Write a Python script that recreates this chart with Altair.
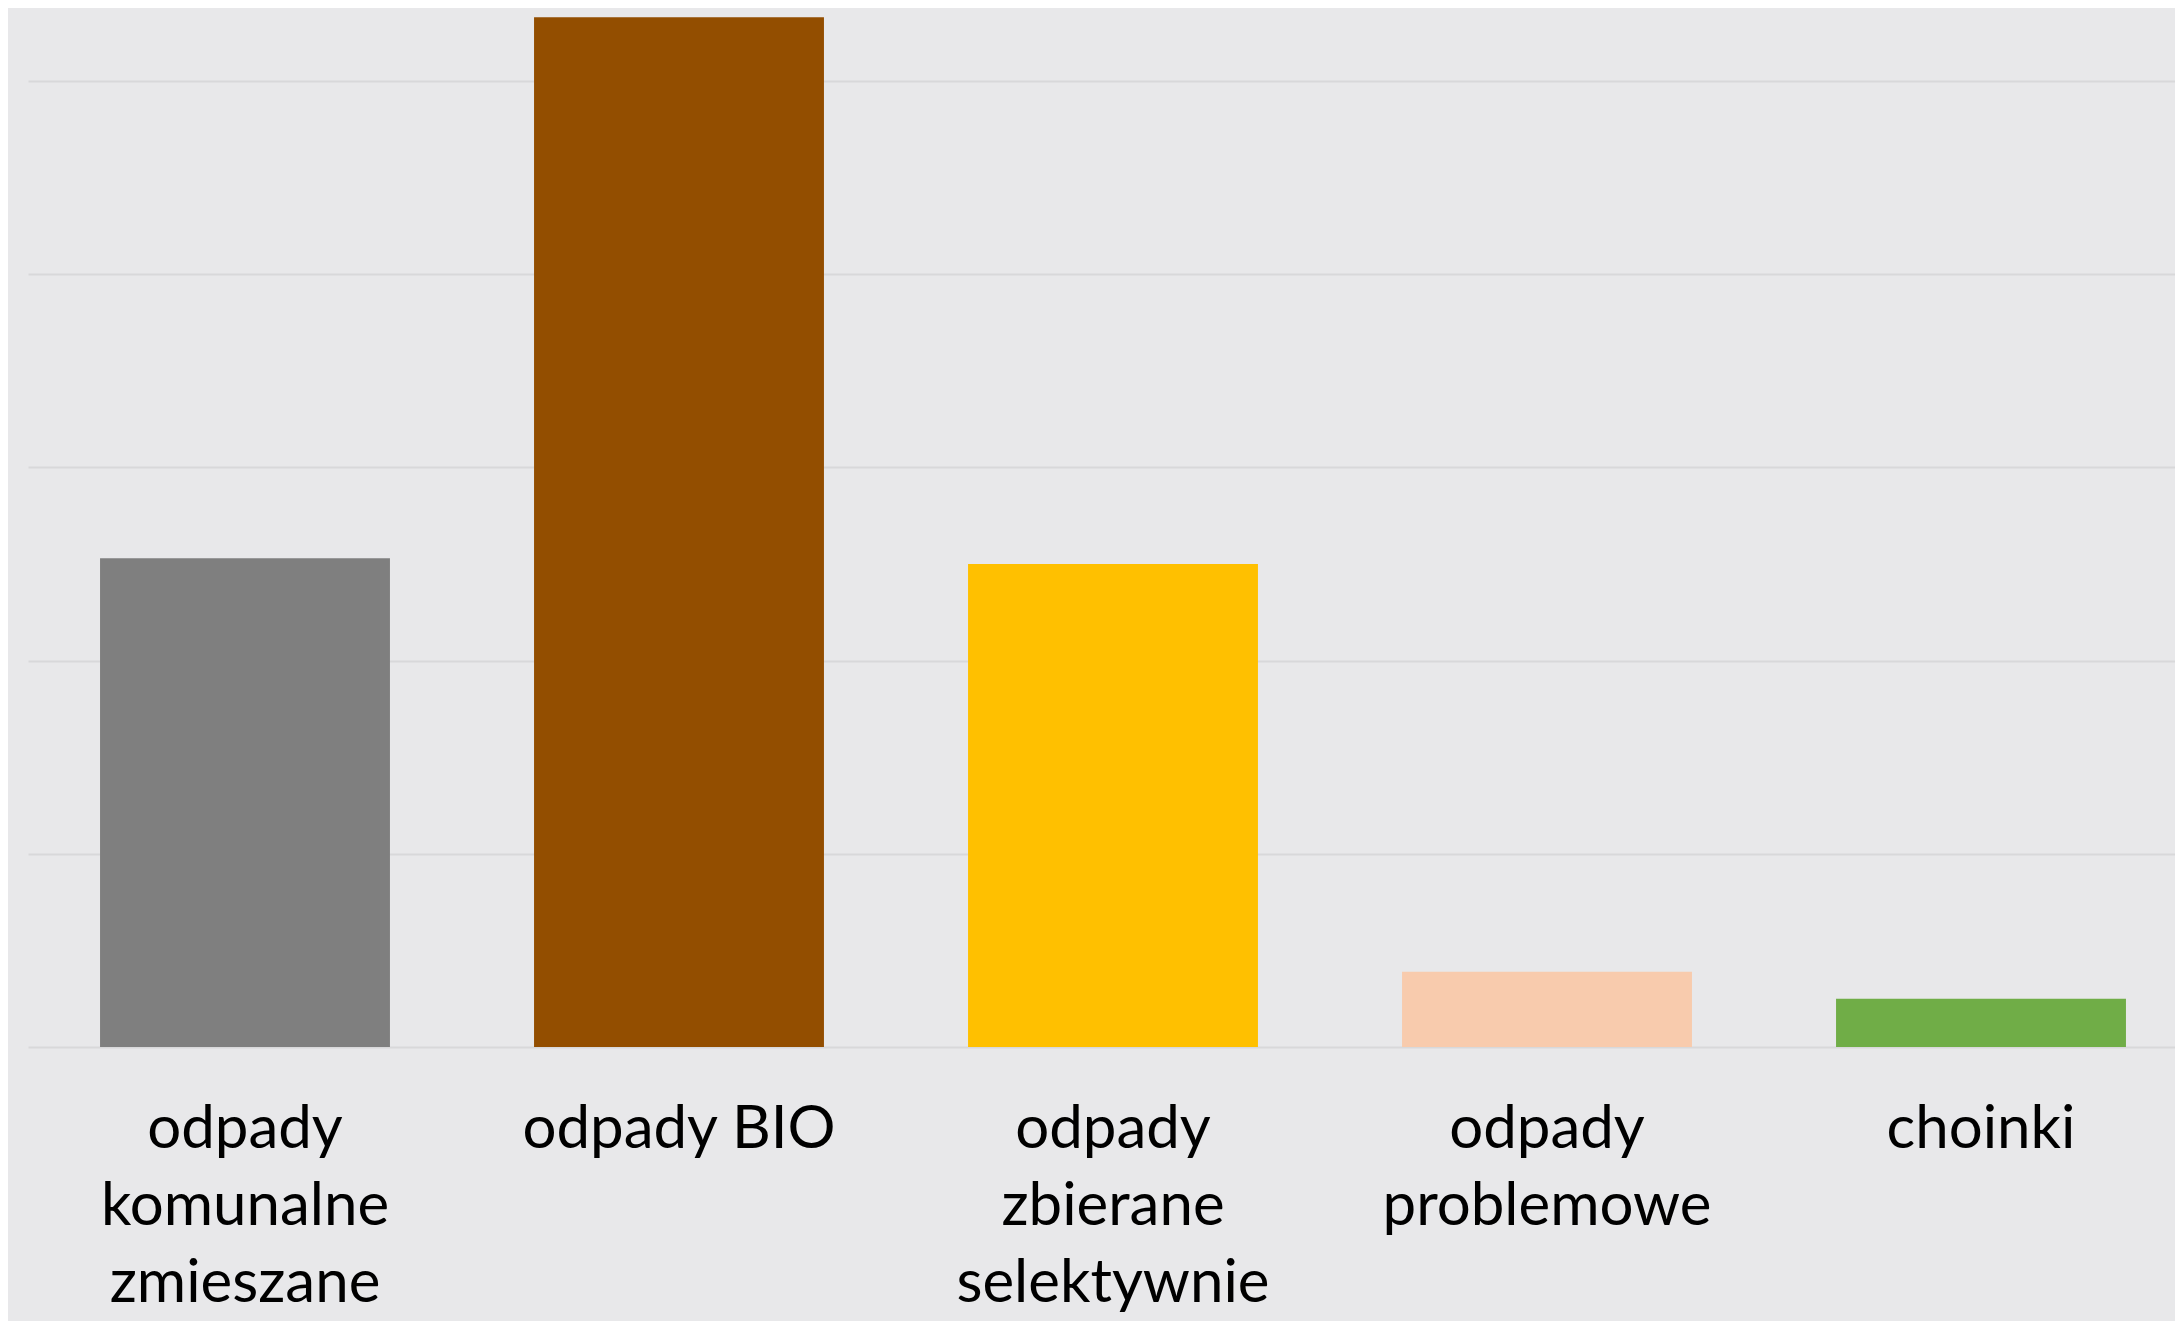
import altair as alt
import pandas as pd

categories = [
    "odpady\nkomunalne\nzmieszane",
    "odpady BIO",
    "odpady\nzbierane\nselektywnie",
    "odpady\nproblemowe",
    "choinki",
]
values = [2.53, 5.33, 2.50, 0.39, 0.25]
colors = ["#7f7f7f", "#934e00", "#ffc000", "#f8cbad", "#70ad47"]
grid_values = [0, 1, 2, 3, 4, 5]

df = pd.DataFrame({"cat": categories, "val": values})

W = 2167 - 20
H = 1039

chart = (
    alt.Chart(df)
    .mark_bar()
    .encode(
        x=alt.X(
            "cat:N",
            sort=categories,
            scale=alt.Scale(range=[0, 2170], paddingInner=0.332, paddingOuter=0.166),
            axis=alt.Axis(
                title=None,
                labelAngle=0,
                labelExpr="split(datum.label, '\\n')",
                labelFont="Lato",
                labelFontSize=60,
                labelLineHeight=77,
                labelColor="#000000",
                labelPadding=53,
                labelLimit=0,
                labelOverlap=False,
                ticks=False,
                domain=False,
                grid=False,
            ),
        ),
        y=alt.Y(
            "val:Q",
            scale=alt.Scale(domain=[0, H / 193.2], nice=False),
            axis=alt.Axis(
                title=None,
                labels=False,
                ticks=False,
                domain=False,
                values=grid_values,
                grid=True,
                gridColor="#d8d8da",
                gridWidth=2,
            ),
        ),
        color=alt.Color("cat:N", sort=categories,
                        scale=alt.Scale(domain=categories, range=colors), legend=None),
    )
    .properties(
        width=W,
        height=H,
        autosize=alt.AutoSizeParams(type="none"),
        padding={"left": 20, "top": 0, "right": 0, "bottom": 1313 - H},
        background="#e8e8ea",
    )
    .configure_view(stroke=None)
)

chart.save("out.html", embed_options={"renderer": "svg", "actions": False})
